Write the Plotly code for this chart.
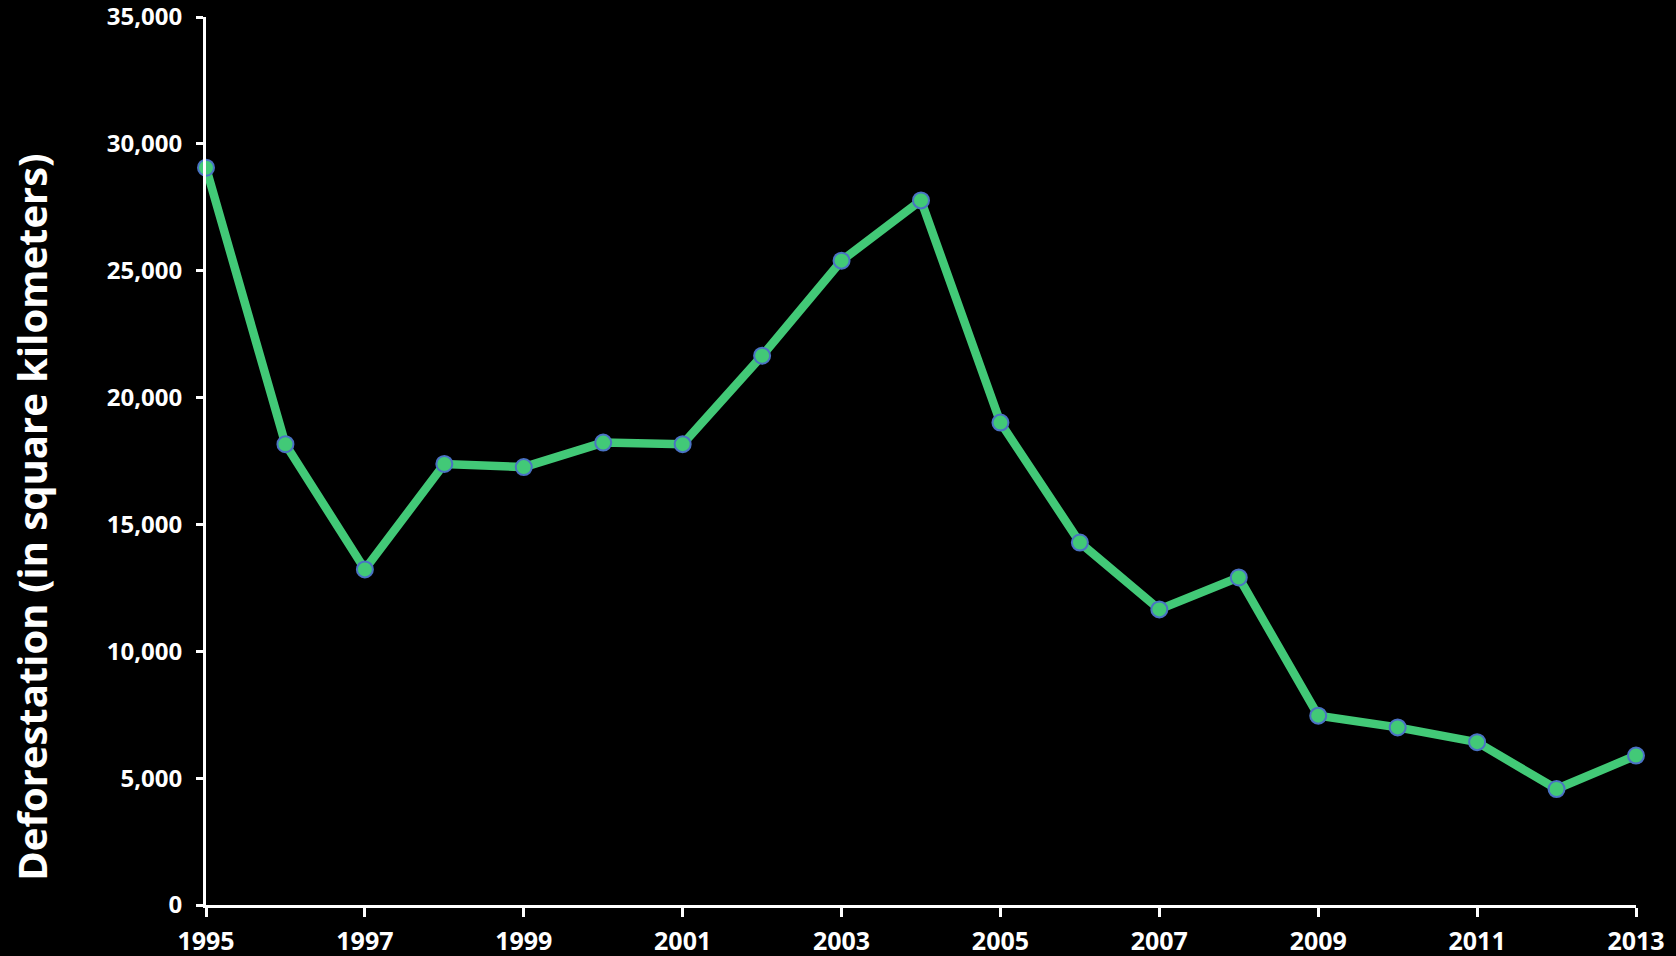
import plotly.graph_objects as go

years = list(range(1995, 2014))
deforestation = [29059, 18161, 13227, 17383, 17259, 18226, 18165, 21651, 25396, 27772,
                 19014, 14286, 11651, 12911, 7464, 7000, 6418, 4571, 5891]
y_ticks = [0, 5000, 10000, 15000, 20000, 25000, 30000, 35000]
x_ticks = list(range(1995, 2014, 2))
y_title = "Deforestation (in square kilometers)"

FONT = "Open Sans"

fig = go.Figure()
fig.add_trace(go.Scatter(
    x=years, y=deforestation, mode="lines+markers",
    line=dict(color="#42C977", width=8.5),
    marker=dict(size=16, color="#42C977", line=dict(color="#4A72C4", width=2)),
    cliponaxis=False, showlegend=False,
))

fig.update_layout(
    width=1676, height=956,
    paper_bgcolor="black", plot_bgcolor="black",
    margin=dict(l=206, r=40, t=17, b=51),
    font=dict(family=FONT, color="white"),
)
fig.update_xaxes(
    range=[1995, 2013], tickvals=x_ticks, ticktext=[str(v) for v in x_ticks],
    showgrid=False, zeroline=False, showline=True, linecolor="white", linewidth=3,
    ticks="outside", ticklen=9, tickwidth=3, tickcolor="white", automargin=False,
    ticklabelstandoff=3, ticklabeloverflow="allow",
    tickfont=dict(family=FONT, size=25, color="white", weight="bold"),
)
fig.update_yaxes(
    range=[0, 35000], tickvals=y_ticks, ticktext=[f"{v:,}" for v in y_ticks],
    showgrid=False, zeroline=False, showline=True, linecolor="white", linewidth=3,
    ticks="outside", ticklen=7, tickwidth=3, tickcolor="white", automargin=False,
    ticklabeloverflow="allow", ticklabelstandoff=9,
    tickfont=dict(family=FONT, size=24, color="white", weight="bold"),
)
fig.add_annotation(
    text=y_title, xref="paper", yref="paper", x=0, y=0.436,
    xanchor="center", yanchor="middle", xshift=-174, textangle=-90,
    showarrow=False, font=dict(family=FONT, size=40, color="white", weight="bold"),
)

fig.write_html("out.html")
